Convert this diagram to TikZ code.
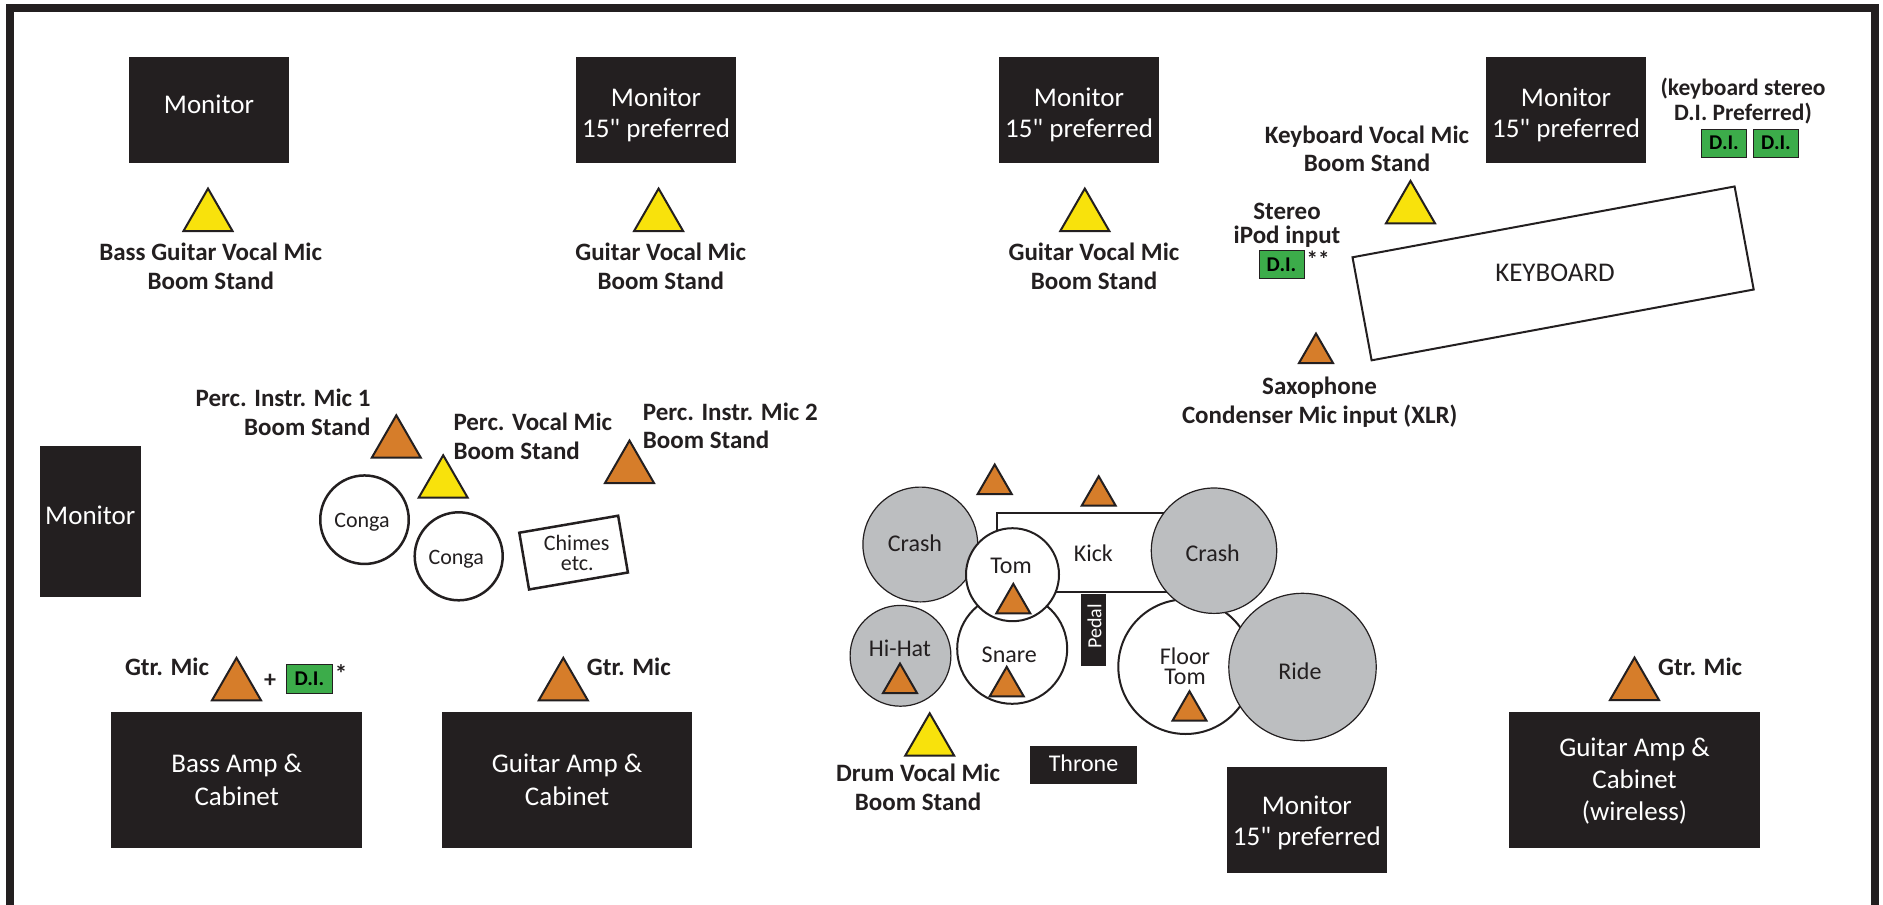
\documentclass[tikz,border=0pt]{standalone}
\usepackage{fontspec}
\setmainfont{Carlito}[Ligatures=TeXOff]
\usetikzlibrary{shapes.geometric}
\definecolor{boxc}{RGB}{35,31,32}
\definecolor{ink}{RGB}{35,31,32}
\definecolor{yel}{RGB}{248,226,12}
\definecolor{org}{RGB}{214,125,42}
\definecolor{cymc}{RGB}{188,190,192}
\definecolor{dig}{RGB}{60,172,74}
\newcommand\mictri[4]{%
  \filldraw[fill=#1, draw=ink, line width=2pt, line join=miter]
    (#2-#4/2,-#3) -- (#2+#4/2,-#3) -- (#2,-#3+0.866*#4) -- cycle;}
\begin{document}
\begin{tikzpicture}[x=1pt,y=1pt,
  dbox/.style={rectangle, fill=boxc, draw=none, inner sep=0pt, outer sep=0pt},
  dibox/.style={rectangle, fill=dig, draw=ink, line width=1pt, inner sep=0pt,
    minimum width=45pt, minimum height=28pt, font=\fontsize{21}{24}\selectfont\bfseries, text=black},
  lab/.style={inner sep=0pt, anchor=base, text=ink, font=\fontsize{25}{29}\selectfont\bfseries},
  wt/.style={inner sep=0pt, anchor=base, text=white, font=\fontsize{27}{31}\selectfont},
  dt/.style={inner sep=0pt, anchor=base, text=ink, font=\fontsize{24}{28}\selectfont},
  st/.style={inner sep=0pt, anchor=base, text=ink, font=\fontsize{22}{26}\selectfont},
  drum/.style={circle, draw=ink, fill=white, line width=2pt, inner sep=0pt},
  cym/.style={circle, draw=ink, fill=cymc, line width=1.2pt, inner sep=0pt},
  outl/.style={rectangle, draw=ink, fill=white, inner sep=0pt}
]
\useasboundingbox (0,0) rectangle (1883,-905);
\fill[white] (0,0) rectangle (1883,-905);
\draw[line width=8pt, draw=boxc] (10,-8.3) rectangle (1875,-909);

% ---------- top row monitors ----------
\node[dbox, minimum width=160pt, minimum height=106pt] (mon1) at (209,-110) {};
\node[wt] (mon1a) at (209,-113.3) {Monitor};
\node[dbox, minimum width=160pt, minimum height=106pt] (mon2) at (656,-110) {};
\node[wt] (mon2a) at (656,-106) {Monitor};
\node[wt] (mon2b) at (656,-137) {15" preferred};
\node[dbox, minimum width=160pt, minimum height=106pt] (mon3) at (1079,-110) {};
\node[wt] (mon3a) at (1079,-106) {Monitor};
\node[wt] (mon3b) at (1079,-137) {15" preferred};
\node[dbox, minimum width=160pt, minimum height=106pt] (mon4) at (1566,-110) {};
\node[wt] (mon4a) at (1566,-106) {Monitor};
\node[wt] (mon4b) at (1566,-137) {15" preferred};

% vocal mics top
\mictri{yel}{208}{231}{49}
\node[lab] (l1a) at (210.7,-260.7) {Bass Guitar Vocal Mic};
\node[lab] (l1b) at (210.7,-289.3) {Boom Stand};
\mictri{yel}{658.6}{231}{49}
\node[lab] (l2a) at (660.7,-260.7) {Guitar Vocal Mic};
\node[lab] (l2b) at (660.7,-289.3) {Boom Stand};
\mictri{yel}{1084.8}{231}{49}
\node[lab] (l3a) at (1094,-260.7) {Guitar Vocal Mic};
\node[lab] (l3b) at (1094,-289.3) {Boom Stand};

% keyboard area
\node[lab] (kva) at (1367,-143.3) {Keyboard Vocal Mic};
\node[lab] (kvb) at (1367,-171.7) {Boom Stand};
\mictri{yel}{1410.5}{223.3}{49}
\node[lab, font=\fontsize{23.5}{27}\selectfont\bfseries] (kst1) at (1743,-95) {(keyboard stereo};
\node[lab, font=\fontsize{23.5}{27}\selectfont\bfseries] (kst2) at (1743,-120.7) {D.I. Preferred)};
\node[dibox] (dik1) at (1724,-143.2) {D.I.};
\node[dibox] (dik2) at (1776,-143.2) {D.I.};
\node[lab] (ipa) at (1287,-219) {Stereo};
\node[lab] (ipb) at (1287,-243.3) {iPod input};
\node[dibox] (dii) at (1281.5,-264.6) {D.I.};
\node[inner sep=0pt, text=ink, font=\fontsize{23}{25}\selectfont\bfseries] (ast2) at (1318,-259) {**};
\node[outl, line width=2pt, minimum width=388.6pt, minimum height=104.8pt, rotate=10.5] (kb) at (1553.1,-273.4) {};
\node[inner sep=0pt, anchor=base, text=ink, font=\fontsize{27}{31}\selectfont] (kbt) at (1555,-281.7) {KEYBOARD};
\mictri{org}{1316}{363}{34}
\node[lab] (sxa) at (1319.5,-394) {Saxophone};
\node[lab] (sxb) at (1319.7,-423) {Condenser Mic input (XLR)};

% ---------- left monitor and percussion ----------
\node[dbox, minimum width=101pt, minimum height=150.7pt] (monl) at (90.3,-521.35) {};
\node[wt] (monla) at (90.3,-524) {Monitor};

\node[lab, anchor=base east] (p1a) at (370.7,-406.7) {Perc. Instr. Mic 1};
\node[lab, anchor=base east] (p1b) at (370.7,-435) {Boom Stand};
\mictri{org}{396.3}{457.7}{49}
\mictri{yel}{443.2}{497.7}{49}
\node[lab, anchor=base west] (pva) at (453.3,-430.7) {Perc. Vocal Mic};
\node[lab, anchor=base west] (pvb) at (453.3,-459.3) {Boom Stand};
\mictri{org}{629.5}{483}{49}
\node[lab, anchor=base west] (p2a) at (642.7,-420) {Perc. Instr. Mic 2};
\node[lab, anchor=base west] (p2b) at (642.7,-448.3) {Boom Stand};

\node[drum, line width=2.5pt, minimum size=88.5pt] (cg1) at (364.5,-519.7) {};
\node[st] (cg1t) at (362,-527.7) {Conga};
\node[drum, line width=2.5pt, minimum size=88pt] (cg2) at (458.7,-556.3) {};
\node[st] (cg2t) at (456.3,-564.3) {Conga};
\node[outl, line width=2.5pt, minimum width=100.3pt, minimum height=57.6pt, rotate=9.75] (chm) at (573.6,-552.6) {};
\node[st] (chma) at (576.7,-550) {Chimes};
\node[st] (chmb) at (577.3,-570) {etc.};

% ---------- amps bottom left ----------
\node[lab, anchor=base east] (gm1) at (209.2,-675) {Gtr. Mic};
\mictri{org}{236.5}{700.3}{49}
\node[inner sep=0pt, text=ink, font=\fontsize{24}{28}\selectfont\bfseries] (plus) at (270,-681) {+};
\node[dibox, minimum width=45.3pt, minimum height=29pt] (dib) at (309.35,-678.8) {D.I.};
\node[inner sep=0pt, text=ink, font=\fontsize{25}{27}\selectfont\bfseries] (ast1) at (341,-674) {*};
\node[dbox, minimum width=251pt, minimum height=135.7pt] (bamp) at (236.7,-779.85) {};
\node[wt] (bampa) at (236.7,-772.3) {Bass Amp \&};
\node[wt] (bampb) at (236.7,-805) {Cabinet};

\mictri{org}{563.3}{700.3}{49}
\node[lab, anchor=base west] (gm2) at (586.7,-675) {Gtr. Mic};
\node[dbox, minimum width=250.5pt, minimum height=135.7pt] (gamp) at (567.05,-779.85) {};
\node[wt] (gampa) at (567.05,-772.3) {Guitar Amp \&};
\node[wt] (gampb) at (567.05,-805) {Cabinet};

% ---------- right amp ----------
\mictri{org}{1634.5}{700}{49}
\node[lab, anchor=base west] (gm3) at (1658,-675.6) {Gtr. Mic};
\node[dbox, minimum width=251pt, minimum height=135.7pt] (ramp) at (1634.5,-779.85) {};
\node[wt] (rampa) at (1634.5,-756) {Guitar Amp \&};
\node[wt] (rampb) at (1634.5,-788.3) {Cabinet};
\node[wt] (rampc) at (1634.5,-820) {(wireless)};

% ---------- drum kit ----------
\node[outl, line width=2pt, minimum width=170.3pt, minimum height=78.4pt] (kick) at (1081.85,-552.5) {};
\node[drum, minimum size=110pt] (snare) at (1012.2,-648.8) {};
\node[cym, minimum size=114.8pt] (crashl) at (920.3,-544.5) {};
\node[drum, minimum size=93pt] (tom) at (1012.5,-574.7) {};
\node[cym, minimum size=100.8pt] (hihat) at (900.5,-655.8) {};
\node[drum, minimum size=134.6pt] (ftom) at (1185.6,-666.7) {};
\node[cym, minimum size=147.4pt] (ride) at (1302.5,-667) {};
\node[cym, minimum size=125.4pt] (crashr) at (1214,-550.7) {};
\node[dbox, minimum width=24.7pt, minimum height=71.4pt] (pedal) at (1093.35,-630) {};
\node[inner sep=0pt, text=white, rotate=90, font=\fontsize{20}{22}\selectfont] (pedalt) at (1094.5,-626.5) {Pedal};

\node[dt] (crashlt) at (915,-551.7) {Crash};
\node[dt] (tomt) at (1011,-573) {Tom};
\node[dt] (kickt) at (1093.3,-561.3) {Kick};
\node[dt] (crashrt) at (1212.7,-561.3) {Crash};
\node[dt] (hihatt) at (900,-656.3) {Hi-Hat};
\node[dt] (snaret) at (1009.3,-662.3) {Snare};
\node[dt] (ftomta) at (1185,-664.7) {Floor};
\node[dt] (ftomtb) at (1185,-684.7) {Tom};
\node[dt] (ridet) at (1300,-679.7) {Ride};

\mictri{org}{994.7}{494}{34}
\mictri{org}{1098.7}{505.7}{34}
\mictri{org}{1013.3}{613.3}{34}
\mictri{org}{900}{693}{34}
\mictri{org}{1006.7}{696.3}{34}
\mictri{org}{1189.5}{720.7}{34}

\mictri{yel}{929.7}{755.7}{49}
\node[lab] (dva) at (918,-781) {Drum Vocal Mic};
\node[lab] (dvb) at (918,-810) {Boom Stand};

\node[dbox, minimum width=106.7pt, minimum height=37.7pt] (throne) at (1083.35,-764.85) {};
\node[wt, font=\fontsize{24}{28}\selectfont] (thronet) at (1083.5,-771.7) {Throne};

\node[dbox, minimum width=159.7pt, minimum height=105.4pt] (monb) at (1306.85,-820) {};
\node[wt] (monba) at (1306.85,-814) {Monitor};
\node[wt] (monbb) at (1306.85,-845.7) {15" preferred};
\end{tikzpicture}
\end{document}
